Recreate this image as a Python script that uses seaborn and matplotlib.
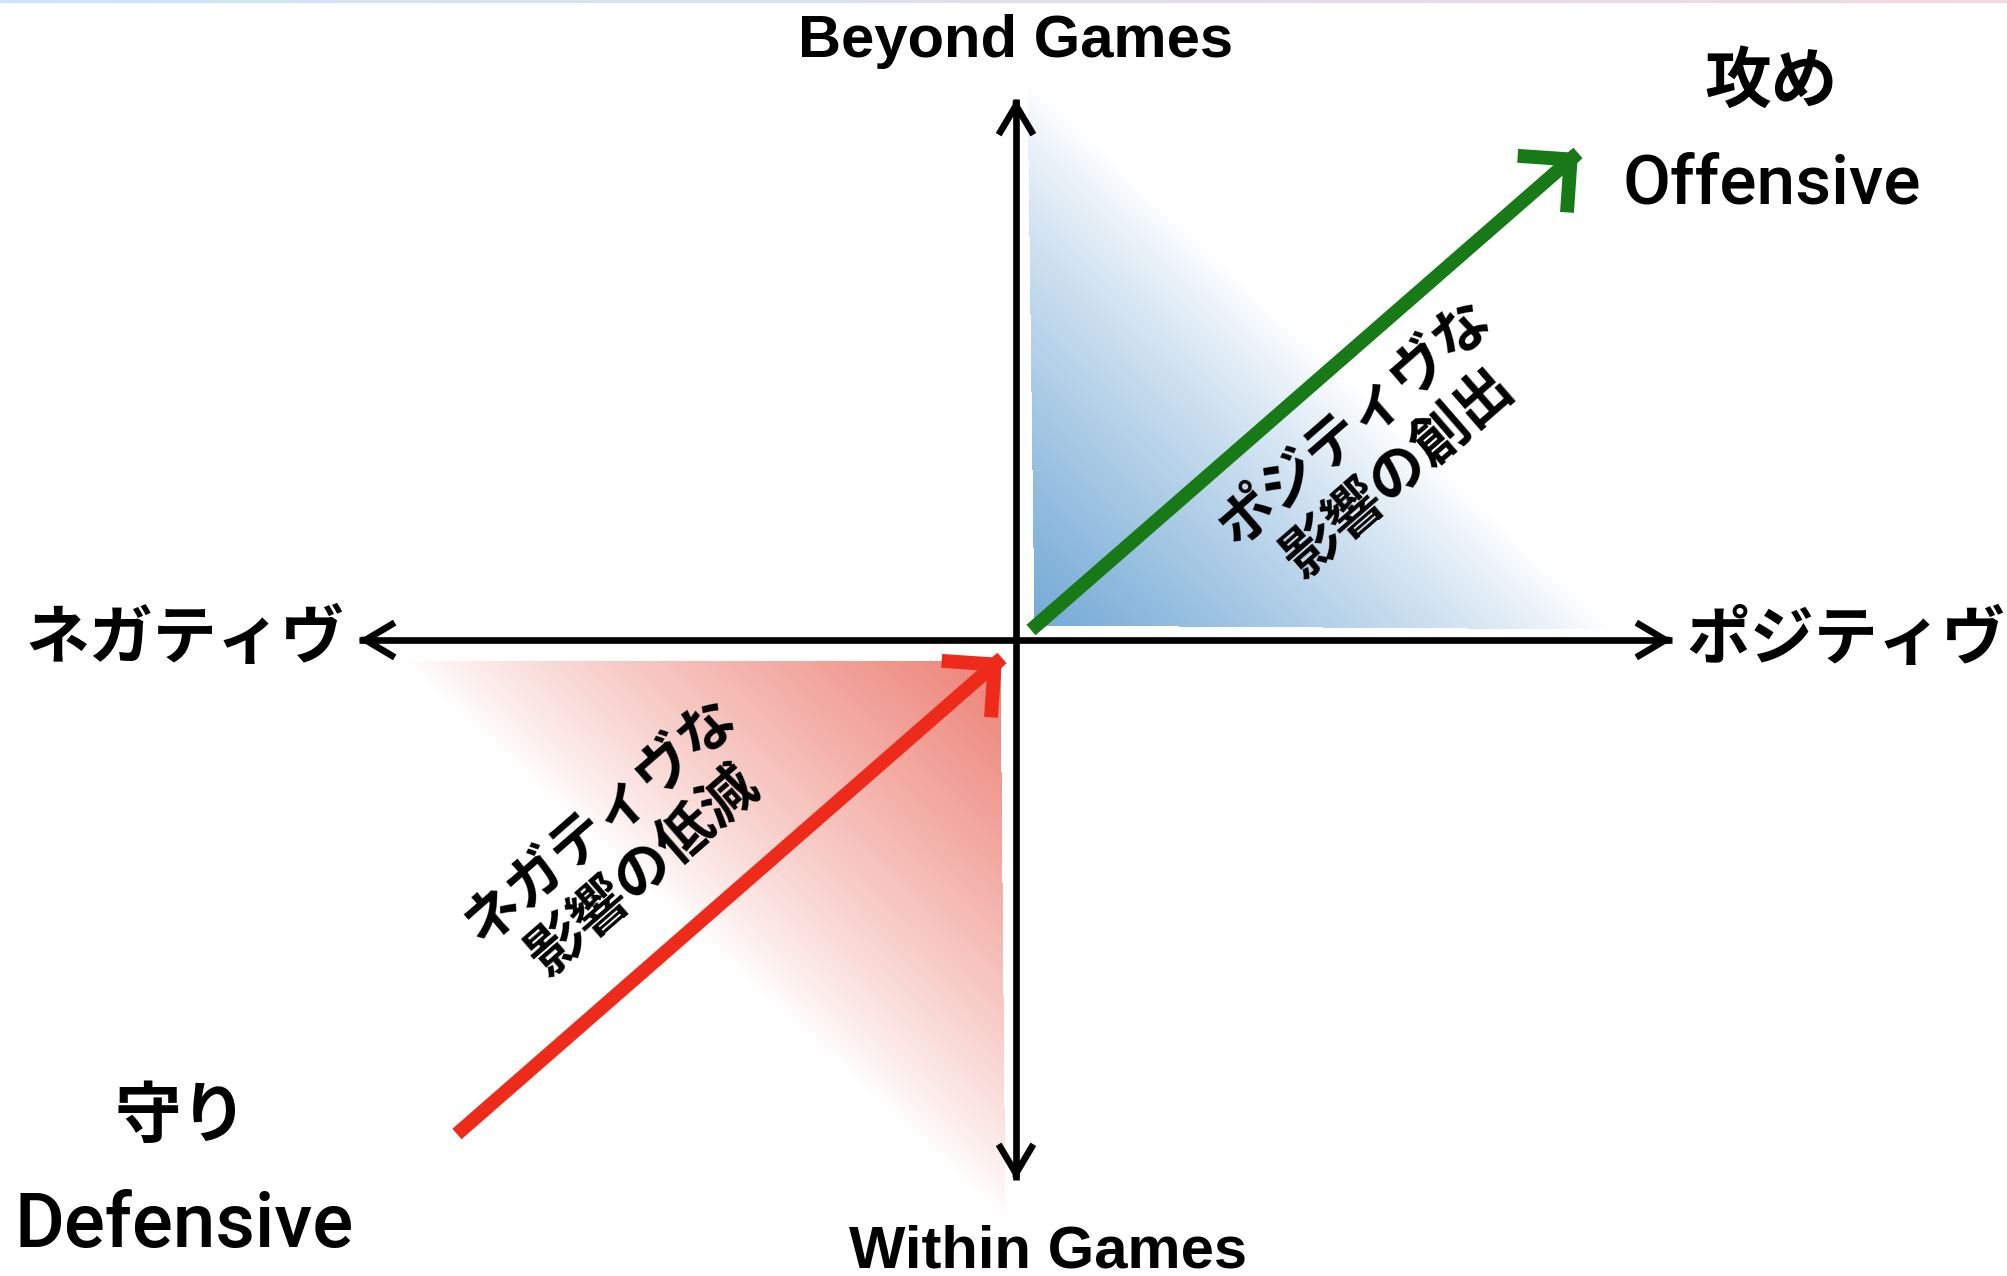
import numpy as np
import pandas as pd
import seaborn as sns
import matplotlib.pyplot as plt
from matplotlib.colors import LinearSegmentedColormap, to_rgb

# diagram coordinates are in image pixels, y grows downwards
axis_names = ["vertical", "horizontal"]
axis_start = [(1016, 1180), (359, 640)]
axis_end = [(1016, 99), (1672, 640)]

arrow_names = ["positive", "negative"]
arrow_start = [(1031, 630), (457, 1134)]
arrow_end = [(1578, 153), (1002, 658)]
arrow_colors = ["#177a17", "#ee2a1a"]

shade_corner = [(1035, 626), (1001, 661)]
shade_leg_a = [(1028, 82), (405, 662)]
shade_leg_b = [(1612, 630), (1006, 1218)]
shade_colors = ["#6ea6d4", "#ec7c70"]

axis_labels = ["Beyond Games", "Within Games"]
axis_label_pos = [(1016, 57), (1048, 1268)]
side_labels = ["ネガティヴ", "ポジティヴ"]
side_label_pos = [(345, 639), (1686, 640)]
corner_jp = ["攻め", "守り"]
corner_jp_pos = [(1771, 82), (181, 1117)]
corner_en = ["Offensive", "Defensive"]
corner_en_pos = [(1772, 203), (184, 1247)]
corner_en_size = [50, 55]
diag_labels = ["ポジティヴな\n影響の創出", "ネガティヴな\n影響の低減"]
diag_pos = [(1377, 448), (622, 846)]

JP = ["Noto Sans CJK JP", "DejaVu Sans"]
EN = ["Liberation Sans", "DejaVu Sans"]
EN_MED = ["Roboto", "DejaVu Sans"]

sns.set_theme(style="white", rc={"lines.solid_capstyle": "butt",
                                 "text.color": "black"})
plt.rcParams["font.family"] = JP

fig = plt.figure(figsize=(20.08, 12.76), dpi=100)
ax = fig.add_axes([0, 0, 1, 1])


def shade(ax, corner, a, b, color):
    c = np.array(corner, float)
    va = np.array(a, float) - c
    vb = np.array(b, float) - c
    xs = [corner[0], a[0], b[0]]
    ys = [corner[1], a[1], b[1]]
    x0, x1 = int(min(xs)), int(max(xs))
    y0, y1 = int(min(ys)), int(max(ys))
    gx, gy = np.meshgrid(np.arange(x0, x1 + 1), np.arange(y0, y1 + 1))
    px = gx - c[0]
    py = gy - c[1]
    det = va[0] * vb[1] - va[1] * vb[0]
    u = (px * vb[1] - py * vb[0]) / det
    v = (va[0] * py - va[1] * px) / det
    s = u + v
    inside = (u >= 0) & (v >= 0) & (s <= 1)
    alpha = 0.96 * np.clip(1 - s, 0, 1) ** 0.85
    rgba = np.zeros(gx.shape + (4,))
    rgba[..., :3] = to_rgb(color)
    rgba[..., 3] = np.where(inside, alpha, 0)
    ax.imshow(rgba, extent=[x0 - 0.5, x1 + 0.5, y1 + 0.5, y0 - 0.5],
              aspect="auto", interpolation="bilinear", zorder=1)


def head(ax, start, tip, color, lw, hl, hw):
    d = np.array(tip, float) - np.array(start, float)
    d /= np.linalg.norm(d)
    back = np.array(tip, float) - 3 * d
    ax.annotate("", xy=tip, xytext=tuple(back),
                arrowprops=dict(arrowstyle=f"->,head_length={hl},head_width={hw}",
                                color=color, lw=lw, mutation_scale=1,
                                shrinkA=0, shrinkB=0, joinstyle="miter",
                                capstyle="butt"),
                zorder=4)


for i in range(2):
    shade(ax, shade_corner[i], shade_leg_a[i], shade_leg_b[i], shade_colors[i])

# thin gradient strip along the top edge
strip = LinearSegmentedColormap.from_list("strip", ["#cde7f6", "#f3d9e3"])
ax.imshow(np.linspace(0, 1, 256)[None, :], cmap=strip, extent=[0, 2008, 3, 0],
          aspect="auto", zorder=1)

rows = []
for n, s, e in zip(axis_names, axis_start, axis_end):
    rows += [(n, s[0], s[1]), (n, e[0], e[1])]
for n, s, e in zip(arrow_names, arrow_start, arrow_end):
    rows += [(n, s[0], s[1]), (n, e[0], e[1])]
df = pd.DataFrame(rows, columns=["line", "x", "y"])

palette = {"vertical": "black", "horizontal": "black",
           "positive": arrow_colors[0], "negative": arrow_colors[1]}
sizes = {"vertical": 4.8, "horizontal": 4.8, "positive": 10, "negative": 10}
sns.lineplot(data=df, x="x", y="y", hue="line", size="line", palette=palette,
             sizes=sizes, sort=False, estimator=None, legend=False, ax=ax,
             zorder=3)

for s, e in zip(axis_start, axis_end):
    head(ax, s, e, "black", 4.8, 21, 12.5)
    head(ax, e, s, "black", 4.8, 21, 12.5)
for s, e, c in zip(arrow_start, arrow_end, arrow_colors):
    head(ax, s, e, c, 10, 27, 27)

for t, (x, y) in zip(axis_labels, axis_label_pos):
    ax.text(x, y, t, ha="center", va="baseline", fontsize=43,
            fontweight="bold", family=EN)
ax.text(side_label_pos[0][0], side_label_pos[0][1], side_labels[0], ha="right",
        va="center", fontsize=46, fontweight="bold", family=JP)
ax.text(side_label_pos[1][0], side_label_pos[1][1], side_labels[1], ha="left",
        va="center", fontsize=46, fontweight="bold", family=JP)
for t, (x, y) in zip(corner_jp, corner_jp_pos):
    ax.text(x, y, t, ha="center", va="center", fontsize=48,
            fontweight="bold", family=JP)
for t, (x, y), fs in zip(corner_en, corner_en_pos, corner_en_size):
    ax.text(x, y, t, ha="center", va="baseline", fontsize=fs,
            fontweight="medium", family=EN_MED)
for t, (x, y) in zip(diag_labels, diag_pos):
    ax.text(x, y, t, ha="center", va="center", rotation=41,
            rotation_mode="anchor", multialignment="center", linespacing=1.15,
            fontsize=41, fontweight="bold", family=JP, zorder=5)

ax.set_xlim(0, 2008)
ax.set_ylim(1276, 0)
ax.axis("off")

fig.savefig("out.png", dpi=100)
